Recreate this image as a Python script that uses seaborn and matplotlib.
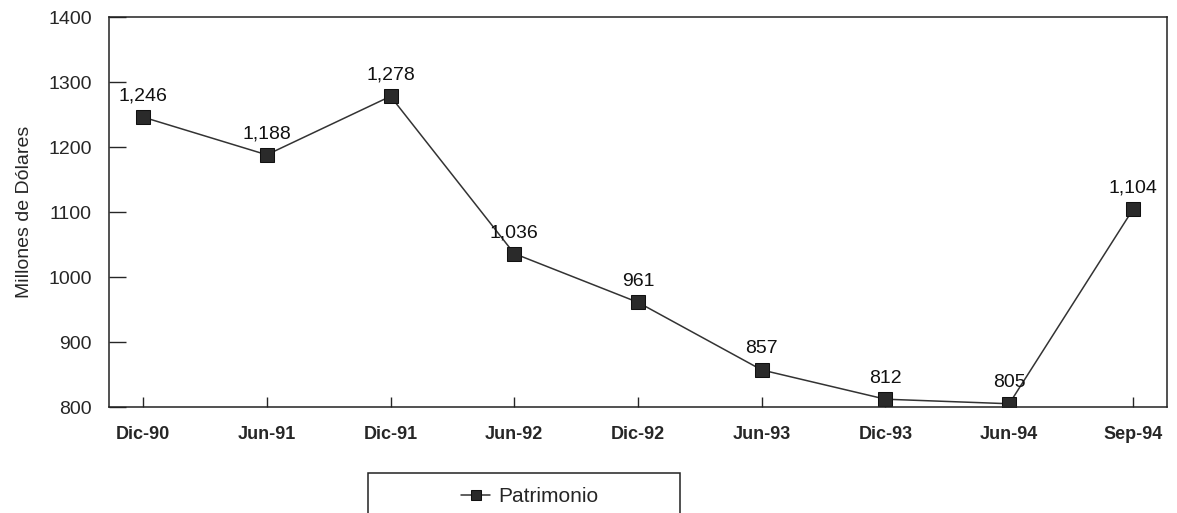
import matplotlib
matplotlib.use("Agg")
import matplotlib.pyplot as plt
import matplotlib.patches as mpatches
import pandas as pd
import seaborn as sns

# Patrimonio, millones de dolares
periods = ["Dic-90", "Jun-91", "Dic-91", "Jun-92", "Dic-92", "Jun-93", "Dic-93", "Jun-94", "Sep-94"]
patrimonio = [1246, 1188, 1278, 1036, 961, 857, 812, 805, 1104]
y_ticks = [800, 900, 1000, 1100, 1200, 1300, 1400]

sns.set_style("ticks")
plt.rcParams['font.family'] = ['Liberation Sans', 'DejaVu Sans']

df = pd.DataFrame({"Periodo": periods, "Patrimonio": patrimonio})

fig = plt.figure(figsize=(11.77, 5.13), dpi=100)
ax = fig.add_axes([109 / 1177, 1 - 407 / 513, (1167 - 109) / 1177, (407 - 17) / 513])

sns.lineplot(data=df, x="Periodo", y="Patrimonio", sort=False, ax=ax,
             color="#333333", linewidth=1.1, marker="s", markersize=9.5,
             markerfacecolor="#2a2a2a", markeredgecolor="#111111",
             label="Patrimonio", legend=False)

for i, v in enumerate(patrimonio):
    ax.annotate(f"{v:,}", (i, v), xytext=(0, 9), textcoords="offset points",
                ha="center", va="bottom", fontsize=14, color="#111111")

ax.set_xlim(-0.275, 8.275)
ax.set_ylim(800, 1400)
ax.set_yticks(y_ticks)
ax.set_xticks(range(len(periods)))
ax.set_xticklabels(periods, fontsize=13, fontweight="bold")
ax.tick_params(axis="y", labelsize=14, direction="in", length=12, width=1, pad=12.5)
ax.tick_params(axis="x", direction="in", length=7, width=1, pad=14)
ax.set_xlabel("")
ax.set_ylabel("Millones de Dólares", fontsize=14, labelpad=11)
for s in ax.spines.values():
    s.set_color("#222222")
    s.set_linewidth(1.1)

# legend box below the plot
box = mpatches.Rectangle((368 / 1177, -0.02), (680 - 368) / 1177, (513 - 473) / 513 + 0.02,
                         transform=fig.transFigure, fill=False, edgecolor="#222222",
                         linewidth=1.1)
fig.patches.append(box)
handles, labels = ax.get_legend_handles_labels()
fig.legend(handles, labels, loc="center", bbox_to_anchor=(530 / 1177, 1 - 497 / 513),
           frameon=False, fontsize=15, handlelength=1.4, handletextpad=0.4, markerscale=0.8)

fig.savefig("out.png", dpi=100, facecolor="white")
